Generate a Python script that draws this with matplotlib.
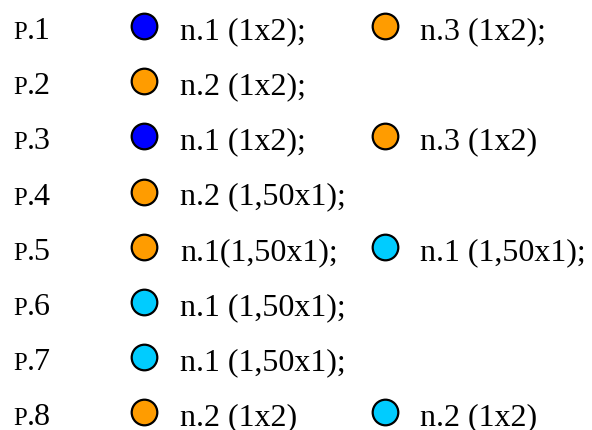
import matplotlib.pyplot as plt

# rows of the figure: label, first item, optional second item
row_nums = ["1", "2", "3", "4", "5", "6", "7", "8"]
first_colors = ["blue", "orange", "blue", "orange", "orange", "cyan", "cyan", "orange"]
first_texts = ["n.1 (1x2);", "n.2 (1x2);", "n.1 (1x2);", "n.2 (1,50x1);",
               "n.1(1,50x1);", "n.1 (1,50x1);", "n.1 (1,50x1);", "n.2 (1x2)"]
second_colors = ["orange", None, "orange", None, "cyan", None, None, "cyan"]
second_texts = ["n.3 (1x2);", "", "n.3 (1x2)", "", "n.1 (1,50x1);", "", "", "n.2 (1x2)"]

palette = {"blue": "#0000ff", "orange": "#ff9c00", "cyan": "#00ccff"}

plt.rcParams['font.family'] = ['Liberation Serif', 'DejaVu Serif']

fig = plt.figure(figsize=(5.92, 4.31), dpi=100)
ax = fig.add_axes([0, 0, 1, 1])
ax.set_xlim(0, 592)
ax.set_ylim(431, 0)
ax.axis('off')

fs = 23
row_y = [27 + 55.2 * i for i in range(len(row_nums))]

fig.canvas.draw()
renderer = fig.canvas.get_renderer()

for i, y in enumerate(row_y):
    # small-caps "P" followed by ".n" on the same baseline
    p = ax.text(13, y + 12, "P", fontsize=fs * 0.78, va='baseline', ha='left')
    p_width = p.get_window_extent(renderer).width
    ax.text(13 + p_width, y + 12, "." + row_nums[i], fontsize=fs,
            va='baseline', ha='left')

    ax.scatter([144], [y], s=340, color=palette[first_colors[i]],
               edgecolor='black', linewidth=1.6, zorder=3)
    ax.text(180, y + 12, first_texts[i], fontsize=fs, va='baseline', ha='left')

    if second_colors[i]:
        ax.scatter([385], [y], s=340, color=palette[second_colors[i]],
                   edgecolor='black', linewidth=1.6, zorder=3)
        ax.text(420, y + 12, second_texts[i], fontsize=fs, va='baseline', ha='left')

fig.savefig("out.png", dpi=100)
